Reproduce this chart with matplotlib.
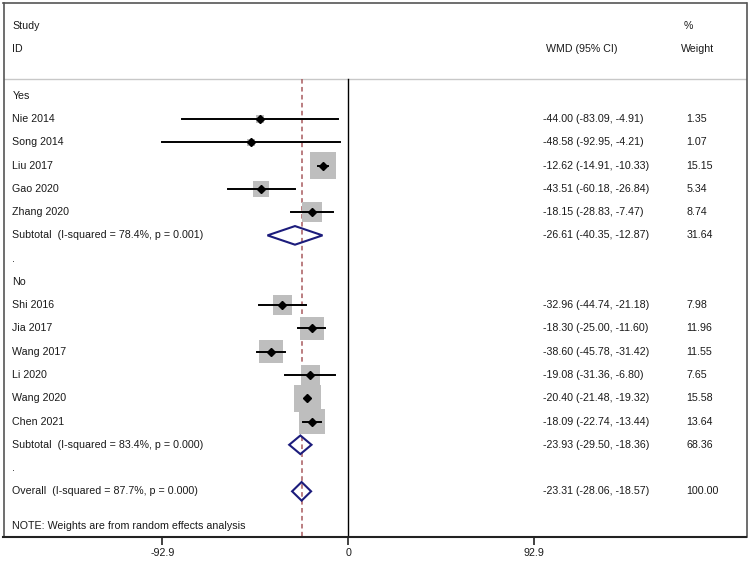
import numpy as np
import matplotlib.pyplot as plt
from matplotlib.patches import Rectangle, Polygon

plt.rcParams['font.family'] = ['Liberation Sans', 'DejaVu Sans']

# subgroup "Yes"
yes_study = ['Nie 2014', 'Song 2014', 'Liu 2017', 'Gao 2020', 'Zhang 2020']
yes_wmd = [-44.00, -48.58, -12.62, -43.51, -18.15]
yes_lo = [-83.09, -92.95, -14.91, -60.18, -28.83]
yes_hi = [-4.91, -4.21, -10.33, -26.84, -7.47]
yes_w = [1.35, 1.07, 15.15, 5.34, 8.74]
yes_sub = [-26.61, -40.35, -12.87, 31.64]
yes_het = 'Subtotal  (I-squared = 78.4%, p = 0.001)'

# subgroup "No"
no_study = ['Shi 2016', 'Jia 2017', 'Wang 2017', 'Li 2020', 'Wang 2020', 'Chen 2021']
no_wmd = [-32.96, -18.30, -38.60, -19.08, -20.40, -18.09]
no_lo = [-44.74, -25.00, -45.78, -31.36, -21.48, -22.74]
no_hi = [-21.18, -11.60, -31.42, -6.80, -19.32, -13.44]
no_w = [7.98, 11.96, 11.55, 7.65, 15.58, 13.64]
no_sub = [-23.93, -29.50, -18.36, 68.36]
no_het = 'Subtotal  (I-squared = 83.4%, p = 0.000)'

overall = [-23.31, -28.06, -18.57, 100.00]
overall_het = 'Overall  (I-squared = 87.7%, p = 0.000)'

xticks = [-92.9, 0, 92.9]
note = 'NOTE: Weights are from random effects analysis'

txt_col = '#1a1a1a'
fs = 7.7

fig = plt.figure(figsize=(7.5, 5.63), dpi=100)
ax = fig.add_axes([3.5 / 750, 1 - 536.7 / 563, 743 / 750, 534 / 563])
ax.set_xlim(-172.2, 198.9)
ax.set_ylim(18.95, -4.0)

px_x = 2.002   # pixels per unit
px_y = 23.27   # pixels per row

tr = ax.get_yaxis_transform()
x_lab, x_ci, x_w = 0.0121, 0.7265, 0.919


def ci_text(e, lo, hi):
    return f'{e:.2f} ({lo:.2f}, {hi:.2f})'


def row_text(r, label, e, lo, hi, w):
    ax.text(x_lab, r, label, transform=tr, va='center', fontsize=fs, color=txt_col)
    ax.text(x_ci, r, ci_text(e, lo, hi), transform=tr, va='center', fontsize=fs, color=txt_col)
    ax.text(x_w, r, f'{w:.2f}', transform=tr, va='center', fontsize=fs, color=txt_col)


def study_row(r, name, e, lo, hi, w):
    side = 6.9 * np.sqrt(w)
    bw, bh = side / px_x, side / px_y
    ax.add_patch(Rectangle((e - bw / 2, r - bh / 2), bw, bh,
                           facecolor='#bebebe', edgecolor='none', zorder=2))
    ax.plot([lo, hi], [r, r], color='black', lw=1.4, zorder=3)
    ax.plot(e, r, marker='D', color='black', ms=4.2, zorder=4)
    row_text(r, name, e, lo, hi, w)


def pooled_row(r, label, vals):
    e, lo, hi, w = vals
    h = 0.4
    ax.add_patch(Polygon([(lo, r), (e, r - h), (hi, r), (e, r + h)], closed=True,
                         fill=False, edgecolor='#1c1c7c', lw=1.5, zorder=4))
    row_text(r, label, e, lo, hi, w)


# header
ax.text(x_lab, -3, 'Study', transform=tr, va='center', fontsize=fs, color=txt_col)
ax.text(x_lab, -2, 'ID', transform=tr, va='center', fontsize=fs, color=txt_col)
ax.text(x_ci + 0.003, -2, 'WMD (95% CI)', transform=tr, va='center', fontsize=fs, color=txt_col)
ax.text(x_w - 0.003, -3, '%', transform=tr, va='center', fontsize=fs, color=txt_col)
ax.text(x_w - 0.007, -2, 'Weight', transform=tr, va='center', fontsize=fs, color=txt_col)
ax.axhline(-0.73, color='#c8c8c8', lw=1.0, zorder=1)

# reference lines
ax.plot([0, 0], [-0.73, 18.95], color='black', lw=1.0, zorder=1)
ax.plot([overall[0]] * 2, [-0.73, 18.95], color='#a85a5e', lw=1.1,
        linestyle=(0, (3, 2.2)), zorder=1)

r = 0
ax.text(x_lab, r, 'Yes', transform=tr, va='center', fontsize=fs, color=txt_col)
for i in range(len(yes_study)):
    r += 1
    study_row(r, yes_study[i], yes_wmd[i], yes_lo[i], yes_hi[i], yes_w[i])
r += 1
pooled_row(r, yes_het, yes_sub)
r += 1
ax.text(x_lab, r, '.', transform=tr, va='center', fontsize=fs, color=txt_col)
r += 1
ax.text(x_lab, r, 'No', transform=tr, va='center', fontsize=fs, color=txt_col)
for i in range(len(no_study)):
    r += 1
    study_row(r, no_study[i], no_wmd[i], no_lo[i], no_hi[i], no_w[i])
r += 1
pooled_row(r, no_het, no_sub)
r += 1
ax.text(x_lab, r, '.', transform=tr, va='center', fontsize=fs, color=txt_col)
r += 1
pooled_row(r, overall_het, overall)
ax.text(x_lab, r + 1.5, note, transform=tr, va='center', fontsize=fs, color=txt_col)

# frame and axis
for s in ['top', 'left', 'right']:
    ax.spines[s].set_color('#555555')
    ax.spines[s].set_linewidth(1.2)
ax.spines['bottom'].set_color('#222222')
ax.spines['bottom'].set_linewidth(1.5)
ax.set_yticks([])
ax.set_xticks(xticks)
ax.set_xticklabels(['-92.9', '0', '92.9'])
ax.tick_params(axis='x', direction='out', length=6, width=1.2, pad=2,
               labelsize=fs, labelcolor=txt_col, color='#222222')

fig.savefig('out.png', dpi=100)
